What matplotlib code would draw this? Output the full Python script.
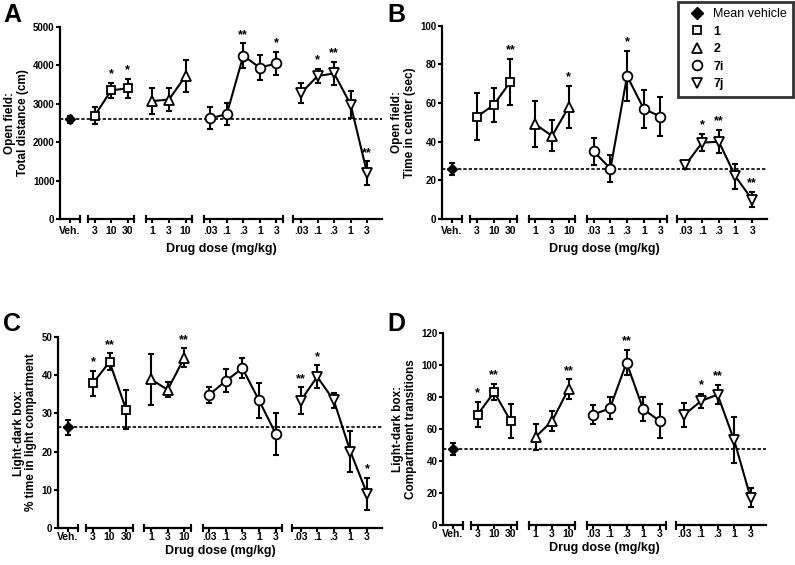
import numpy as np
import matplotlib.pyplot as plt
from matplotlib.lines import Line2D

plt.rcParams['font.family'] = ['Liberation Sans', 'DejaVu Sans']
plt.rcParams['font.weight'] = 'bold'
plt.rcParams['axes.labelweight'] = 'bold'

# groups and doses
groups = ['1', '2', '7i', '7j']
doses = [['3', '10', '30'], ['1', '3', '10'],
         ['.03', '.1', '.3', '1', '3'], ['.03', '.1', '.3', '1', '3']]
markers = ['s', '^', 'o', 'v']
msizes = [6.3, 7, 7, 7]

# Panel A - open field, total distance (cm)
a_veh, a_veh_err = 2590, 100
a_1, a_1_err = [2690, 3350, 3400], [220, 190, 240]
a_2, a_2_err = [3070, 3110, 3720], [350, 290, 410]
a_7i, a_7i_err = [2620, 2730, 4250, 3940, 4050], [290, 280, 320, 320, 300]
a_7j, a_7j_err = [3280, 3720, 3790, 2980, 1190], [270, 190, 300, 350, 310]
a_stars = [['', '*', '*'], ['', '', ''], ['', '', '**', '', '*'], ['', '*', '**', '', '**']]

# Panel B - open field, time in center (sec)
b_veh, b_veh_err = 26, 3
b_1, b_1_err = [53, 59, 71], [12, 9, 12]
b_2, b_2_err = [49, 43, 58], [12, 8, 11]
b_7i, b_7i_err = [35, 26, 74, 57, 53], [7, 7, 13, 10, 10]
b_7j, b_7j_err = [28, 39.5, 40, 22, 10], [2, 4.5, 6, 6.5, 4]
b_stars = [['', '', '**'], ['', '', '*'], ['', '', '*', '', ''], ['', '*', '**', '', '**']]

# Panel C - light-dark box, % time in light compartment
c_veh, c_veh_err = 26.4, 2
c_1, c_1_err = [37.9, 43.5, 31.0], [3.3, 2.2, 5.2]
c_2, c_2_err = [38.9, 36.2, 44.6], [6.6, 2.0, 2.4]
c_7i, c_7i_err = [34.9, 38.5, 41.8, 33.4, 24.7], [2.1, 3.0, 2.6, 4.6, 5.5]
c_7j, c_7j_err = [33.3, 39.6, 33.4, 20.0, 9.0], [3.5, 3.0, 1.9, 5.4, 4.2]
c_stars = [['*', '**', ''], ['', '', '**'], ['', '', '', '', ''], ['**', '*', '', '', '*']]

# Panel D - light-dark box, compartment transitions
d_veh, d_veh_err = 47.5, 4
d_1, d_1_err = [69, 83, 65], [8, 5, 10.5]
d_2, d_2_err = [55, 65, 85], [8, 6, 6]
d_7i, d_7i_err = [69, 73, 101.5, 72.5, 65], [6, 7, 8, 7.5, 10.5]
d_7j, d_7j_err = [69, 77.5, 81.5, 53, 17], [7.5, 4.5, 6, 14.5, 6]
d_stars = [['*', '**', ''], ['', '', '**'], ['', '', '**', '', ''], ['', '*', '**', '', '']]

panels = [
    dict(letter='A', veh=a_veh, veh_err=a_veh_err, vals=[a_1, a_2, a_7i, a_7j],
         errs=[a_1_err, a_2_err, a_7i_err, a_7j_err], stars=a_stars,
         ymax=5000, ystep=1000, ylabel='Open field:\nTotal distance (cm)',
         rect=[0.0755, 0.6124, 0.405, 0.340], tpad=2, lpad=5),
    dict(letter='B', veh=b_veh, veh_err=b_veh_err, vals=[b_1, b_2, b_7i, b_7j],
         errs=[b_1_err, b_2_err, b_7i_err, b_7j_err], stars=b_stars,
         ymax=100, ystep=20, ylabel='Open field:\nTime in center (sec)',
         rect=[0.556, 0.6124, 0.409, 0.342], tpad=2, lpad=5),
    dict(letter='C', veh=c_veh, veh_err=c_veh_err, vals=[c_1, c_2, c_7i, c_7j],
         errs=[c_1_err, c_2_err, c_7i_err, c_7j_err], stars=c_stars,
         ymax=50, ystep=10, ylabel='Light-dark box:\n% time in light compartment',
         rect=[0.073, 0.0655, 0.4075, 0.338], tpad=0, lpad=2),
    dict(letter='D', veh=d_veh, veh_err=d_veh_err, vals=[d_1, d_2, d_7i, d_7j],
         errs=[d_1_err, d_2_err, d_7i_err, d_7j_err], stars=d_stars,
         ymax=120, ystep=20, ylabel='Light-dark box:\nCompartment transitions',
         rect=[0.557, 0.0707, 0.406, 0.340], tpad=0, lpad=2),
]

# x layout: vehicle at 0, groups separated by a gap
gap = 1.5
xpos = []
start = gap
for d in doses:
    xs = start + np.arange(len(d))
    xpos.append(xs)
    start = xs[-1] + gap
xlo, xhi = -0.6, 18.9

fig = plt.figure(figsize=(7.95, 5.65), dpi=100)
letter_pos = {'A': (0.004, 0.995), 'B': (0.487, 0.995), 'C': (0.004, 0.448), 'D': (0.487, 0.448)}

for p in panels:
    ax = fig.add_axes(p['rect'])
    ymax = p['ymax']
    ax.set_xlim(xlo, xhi)
    ax.set_ylim(0, ymax)
    for s in ['top', 'right', 'bottom']:
        ax.spines[s].set_visible(False)
    ax.spines['left'].set_linewidth(1.6)
    ax.set_yticks(np.arange(0, ymax + 1, p['ystep']))
    ax.tick_params(axis='y', length=3, width=1.5, labelsize=7, pad=1)
    ax.tick_params(axis='x', length=3, width=1.5, labelsize=7.5, pad=p['tpad'])

    allx = [0] + [x for xs in xpos for x in xs]
    labels = ['Veh.'] + [l for d in doses for l in d]
    ax.set_xticks(allx)
    ax.set_xticklabels(labels)

    # broken x-axis segments
    tr = ax.get_xaxis_transform()
    segs = [(xlo, 0.6)] + [(xs[0] - 0.4, xs[-1] + 0.4) for xs in xpos[:-1]] + [(xpos[-1][0] - 0.5, xhi)]
    for i, (s0, s1) in enumerate(segs):
        ax.plot([s0, s1], [0, 0], color='black', lw=1.6, transform=tr, clip_on=False, zorder=5)
        caps = [s1] if i == 0 else ([s0] if i == len(segs) - 1 else [s0, s1])
        for c in caps:
            ax.plot([c, c], [-0.018, 0.018], color='black', lw=1.5, transform=tr, clip_on=False, zorder=5)

    # vehicle reference line
    ax.axhline(p['veh'], color='black', lw=1.2, ls=(0, (2, 1.2)), zorder=1)
    ax.errorbar([0], [p['veh']], yerr=[p['veh_err']], fmt='D', color='black', ms=5.5,
                elinewidth=1.5, capsize=2.5, capthick=1.5, zorder=4)

    for xs, v, e, st, m, ms in zip(xpos, p['vals'], p['errs'], p['stars'], markers, msizes):
        ax.errorbar(xs, v, yerr=e, fmt='none', ecolor='black', elinewidth=1.5,
                    capsize=2.5, capthick=1.5, zorder=2)
        ax.plot(xs, v, color='black', lw=1.5, marker=m, ms=ms, mfc='white',
                mec='black', mew=1.3, zorder=3)
        for x, y, er, s in zip(xs, v, e, st):
            if s:
                ax.text(x, y + er + 0.045 * ymax, s, ha='center', va='center',
                        fontsize=9, fontweight='bold')

    ax.set_ylabel(p['ylabel'], fontsize=8.5, fontweight='bold', labelpad=3, linespacing=1.1)
    ax.set_xlabel('Drug dose (mg/kg)', fontsize=9, fontweight='bold', labelpad=p['lpad'])
    lx, ly = letter_pos[p['letter']]
    fig.text(lx, ly, p['letter'], fontsize=18, fontweight='bold', va='top', ha='left')

handles = [Line2D([], [], ls='none', marker='D', color='black', ms=6)]
handles += [Line2D([], [], ls='none', marker=m, mfc='white', mec='black', mew=1.3, ms=ms)
            for m, ms in zip(markers, msizes)]
leg = fig.legend(handles, ['Mean vehicle'] + groups, loc='upper right',
                 bbox_to_anchor=(0.998, 0.997), borderaxespad=0, frameon=True, fancybox=False,
                 labelspacing=0.45, handletextpad=0.3, borderpad=0.5, handlelength=2.0,
                 prop={'weight': 'bold', 'size': 9})
leg.get_texts()[0].set_fontweight('normal')
leg.get_frame().set_edgecolor('black')
leg.get_frame().set_linewidth(2)

fig.savefig('out.png', dpi=100)
